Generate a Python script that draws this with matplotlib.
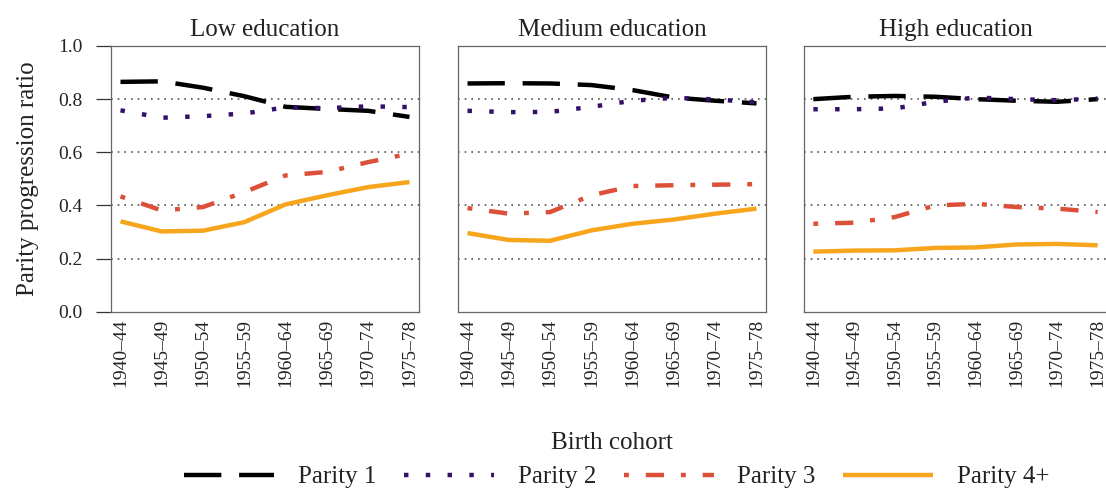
import matplotlib
matplotlib.use("Agg")
import matplotlib.pyplot as plt
from matplotlib.lines import Line2D

plt.rcParams['font.family'] = ['Liberation Serif', 'DejaVu Serif']

cohorts = ["1940–44", "1945–49", "1950–54", "1955–59",
           "1960–64", "1965–69", "1970–74", "1975–78"]
panels = ["Low education", "Medium education", "High education"]
series_names = ["Parity 1", "Parity 2", "Parity 3", "Parity 4+"]

# parity progression ratios per education level
low_p1 = [0.865, 0.867, 0.843, 0.811, 0.771, 0.763, 0.756, 0.733]
low_p2 = [0.758, 0.730, 0.736, 0.746, 0.769, 0.766, 0.773, 0.770]
low_p3 = [0.434, 0.381, 0.394, 0.450, 0.513, 0.526, 0.563, 0.595]
low_p4 = [0.340, 0.302, 0.305, 0.337, 0.404, 0.438, 0.469, 0.488]

med_p1 = [0.859, 0.860, 0.859, 0.853, 0.834, 0.806, 0.794, 0.784]
med_p2 = [0.756, 0.751, 0.752, 0.771, 0.794, 0.805, 0.799, 0.788]
med_p3 = [0.390, 0.369, 0.375, 0.438, 0.473, 0.476, 0.478, 0.480]
med_p4 = [0.296, 0.270, 0.267, 0.306, 0.331, 0.347, 0.369, 0.388]

high_p1 = [0.800, 0.809, 0.812, 0.809, 0.800, 0.794, 0.790, 0.800]
high_p2 = [0.762, 0.762, 0.765, 0.790, 0.806, 0.800, 0.796, 0.802]
high_p3 = [0.331, 0.335, 0.356, 0.400, 0.406, 0.394, 0.388, 0.375]
high_p4 = [0.226, 0.230, 0.231, 0.240, 0.242, 0.253, 0.255, 0.250]

data = [
    [low_p1, low_p2, low_p3, low_p4],
    [med_p1, med_p2, med_p3, med_p4],
    [high_p1, high_p2, high_p3, high_p4],
]

colors = ["#000000", "#34106a", "#dc5039", "#f7a51c"]
lw = 3.2
styles = [
    (0, (8.4, 4.0)),
    (0, (1.0, 3.9)),
    (0, (1.1, 3.8, 4.1, 3.8)),
    "solid",
]

text_color = "#222222"
spine_color = "#666666"

fig = plt.figure(figsize=(11.06, 4.93), dpi=100)
W, H = 1106, 493
lefts = [111, 458, 804]
widths = [308, 308, 303]
top, bottom = 46, 311.7

x = list(range(len(cohorts)))
axes = []
for k, (title, series) in enumerate(zip(panels, data)):
    ax = fig.add_axes([lefts[k] / W, 1 - bottom / H, widths[k] / W, (bottom - top) / H])
    axes.append(ax)
    for yv in [0.2, 0.4, 0.6, 0.8]:
        ax.axhline(yv, color="#555555", lw=1.2, ls=(0, (1, 3)), zorder=1)
    for vals, c, st in zip(series, colors, styles):
        ax.plot(x, vals, color=c, lw=lw, ls=st, dash_capstyle="butt",
                solid_capstyle="butt", zorder=3)
    ax.set_xlim(-0.23, 7.23)
    ax.set_ylim(0, 1.0)
    ax.set_xticks(x)
    ax.set_xticklabels(cohorts, rotation=90, fontsize=14, color=text_color)
    ax.tick_params(axis="x", length=0, pad=5)
    ax.set_title(title, fontsize=18, color=text_color, pad=7)
    for sp in ax.spines.values():
        sp.set_color(spine_color)
        sp.set_linewidth(0.9)
    if k == 2:
        ax.spines["right"].set_visible(False)
    if k == 0:
        ax.set_yticks([0.0, 0.2, 0.4, 0.6, 0.8, 1.0])
        ax.set_yticklabels(["0.0", "0.2", "0.4", "0.6", "0.8", "1.0"],
                           fontsize=14, color=text_color)
        ax.tick_params(axis="y", length=10.5, width=0.9, color="#333333", pad=10)
        ax.set_ylabel("Parity progression ratio", fontsize=18, color=text_color,
                      labelpad=14)
    else:
        ax.set_yticks([])

fig.text(612 / W, 1 - 443 / H, "Birth cohort", ha="center", va="center",
         fontsize=18, color=text_color)

handles = [Line2D([0], [0], color=c, lw=lw, ls=st, dash_capstyle="butt",
                  solid_capstyle="butt")
           for c, st in zip(colors, styles)]
fig.legend(handles, series_names, loc="center", bbox_to_anchor=(617 / W, 1 - 477 / H),
           ncol=4, frameon=False, fontsize=18, handlelength=3.6,
           handletextpad=0.95, columnspacing=1.1, labelcolor=text_color)

fig.savefig("out.png", dpi=100)
